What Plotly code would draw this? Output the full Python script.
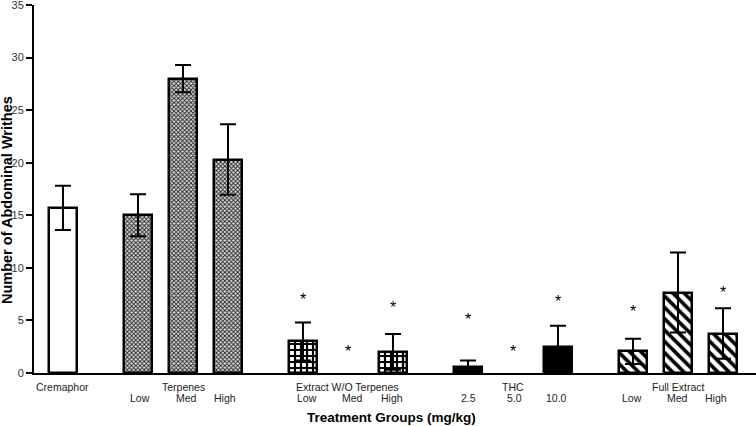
import plotly.graph_objects as go

# ---- data ----
groups = ["Cremaphor", "Terpenes", "Extract W/O Terpenes", "THC", "Full Extract"]
group_positions = [[0.0], [1.667, 2.667, 3.667], [5.333, 6.333, 7.333], [9.0, 10.0, 11.0], [12.667, 13.667, 14.667]]
dose_labels = [[""], ["Low", "Med", "High"], ["Low", "Med", "High"], ["2.5", "5.0", "10.0"], ["Low", "Med", "High"]]
dose_label_offsets = [[0.0], [0.04, 0.07, -0.07], [0.09, 0.11, -0.02], [0.02, 0.04, -0.04], [-0.02, -0.02, -0.16]]
means = [[15.7], [15.0, 28.0, 20.3], [3.0, 0.0, 2.0], [0.55, 0.0, 2.5], [2.05, 7.65, 3.75]]
sems = [[2.1], [2.0, 1.3, 3.35], [1.8, 0.0, 1.7], [0.65, 0.0, 2.0], [1.2, 3.8, 2.4]]
significant = [[False], [False, False, False], [True, True, True], [True, True, True], [True, False, True]]
star_heights = [[None], [None, None, None], [7.4, 2.4, 6.6], [5.5, 2.4, 7.2], [6.2, None, 8.0]]
y_ticks = [0, 5, 10, 15, 20, 25, 30, 35]

# ---- styles ----
styles = [
    dict(color="white", pattern=None),
    dict(color="white", pattern=dict(shape="x", size=3, solidity=0.5, fgcolor="#222", bgcolor="#dddddd", fillmode="replace")),
    dict(color="white", pattern=dict(shape="+", size=6, solidity=0.6, fgcolor="black", bgcolor="white", fillmode="replace")),
    dict(color="black", pattern=None),
    dict(color="white", pattern=dict(shape="\\", size=8, solidity=0.45, fgcolor="black", bgcolor="white", fillmode="replace")),
]

fig = go.Figure()
for g, name in enumerate(groups):
    xs = [x for x, m in zip(group_positions[g], means[g]) if m > 0]
    ys = [m for m in means[g] if m > 0]
    es = [e for e, m in zip(sems[g], means[g]) if m > 0]
    marker = dict(color=styles[g]["color"], line=dict(color="black", width=2.5))
    if styles[g]["pattern"]:
        marker["pattern"] = styles[g]["pattern"]
    fig.add_trace(go.Bar(
        x=xs, y=ys, width=0.64, name=name, marker=marker,
        error_y=dict(type="data", array=es, visible=True, color="black", thickness=2, width=8),
        showlegend=False,
    ))

annotations = []
# significance stars
for g in range(len(groups)):
    for x, sig, h in zip(group_positions[g], significant[g], star_heights[g]):
        if sig:
            annotations.append(dict(x=x, y=h, xref="x", yref="y", text="*", showarrow=False,
                                    font=dict(size=16, color="black", family="Liberation Sans"),
                                    yanchor="middle", yshift=-4))
# group names (row 1)
for g, name in enumerate(groups):
    pos = group_positions[g]
    cx = sum(pos) / len(pos)
    annotations.append(dict(x=cx, y=0, xref="x", yref="paper", text=name, showarrow=False,
                            font=dict(size=10.5, color="#222", family="Liberation Sans"),
                            yanchor="middle", yshift=-14))
# dose labels (row 2)
for g in range(len(groups)):
    for x, off, lab in zip(group_positions[g], dose_label_offsets[g], dose_labels[g]):
        if lab:
            annotations.append(dict(x=x + off, y=0, xref="x", yref="paper", text=lab, showarrow=False,
                                    font=dict(size=10.5, color="#222", family="Liberation Sans"),
                                    yanchor="middle", yshift=-25))
# axis titles
annotations.append(dict(x=0.495, y=0, xref="paper", yref="paper", text="<b>Treatment Groups (mg/kg)</b>",
                        showarrow=False, font=dict(size=13.5, color="black", family="Liberation Sans"),
                        yanchor="middle", yshift=-44))
annotations.append(dict(x=0, y=0.47, xref="paper", yref="paper", text="<b>Number of Abdominal Writhes</b>",
                        showarrow=False, textangle=-90, xanchor="center", xshift=-27,
                        font=dict(size=14.5, color="black", family="Liberation Sans")))

fig.update_layout(
    width=756, height=426,
    margin=dict(l=34, r=0, t=5, b=53),
    paper_bgcolor="white", plot_bgcolor="white",
    font=dict(family="Liberation Sans", color="#222"),
    bargap=0,
    annotations=annotations,
    xaxis=dict(range=[-0.644, 15.4], showticklabels=False, ticks="", showgrid=False, zeroline=False,
               showline=True, linecolor="black", linewidth=2),
    yaxis=dict(range=[0, 35], tickvals=y_ticks, ticks="outside", ticklen=6, tickwidth=2, tickcolor="black",
               showgrid=False, zeroline=False, showline=True, linecolor="black", linewidth=2,
               ticklabeloverflow="allow",
               tickfont=dict(size=11, color="#333", family="Liberation Sans")),
)

fig.write_html("out.html", config={"displayModeBar": False},
               post_script="document.body.style.margin='0px';")
